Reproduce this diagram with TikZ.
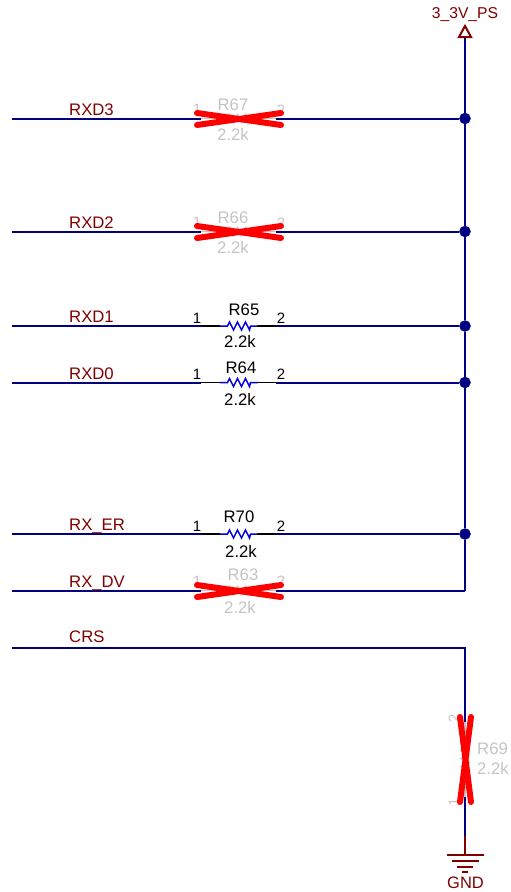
\documentclass[tikz,border=0pt]{standalone}
\usepackage{fontspec}
\setmainfont{Liberation Sans}
\definecolor{netblue}{HTML}{000080}
\definecolor{netred}{HTML}{800000}
\definecolor{dnpgrey}{HTML}{C4C4C4}
\definecolor{resblue}{HTML}{0000E0}
\tikzset{
  netline/.style={draw=netblue,line width=2pt},
  supline/.style={draw=netred,line width=2pt},
  leadline/.style={draw=black,line width=1.5pt},
  leadoff/.style={draw=dnpgrey,line width=1.5pt},
  resline/.style={draw=resblue,line width=1.5pt},
  resoff/.style={draw=dnpgrey,line width=1.5pt},
  crossline/.style={draw=red,line width=6pt,line cap=round},
  netlabel/.style={text=netred,font=\fontsize{16.7}{18}\selectfont,anchor=base west,inner sep=0pt},
  reslabel/.style={text=black,font=\fontsize{16.7}{18}\selectfont,inner sep=0pt},
  resgrey/.style={text=dnpgrey,font=\fontsize{16.7}{18}\selectfont,inner sep=0pt},
  pinlabel/.style={text=black,font=\fontsize{15}{16}\selectfont,inner sep=0pt},
  pingrey/.style={text=dnpgrey,font=\fontsize{15}{16}\selectfont,inner sep=0pt},
  junction/.style={circle,fill=netblue,draw=netblue,minimum size=11pt,inner sep=0pt},
}
\newcommand{\rzigh}{-- ++(7.5,0) -- ++(2,-4) -- ++(4,8) -- ++(4,-8) -- ++(4,8) -- ++(4,-8) -- ++(4,8) -- ++(1,-4) -- ++(7,0)}
\newcommand{\rzigv}{-- ++(0,7.5) -- ++(-4,2) -- ++(8,4) -- ++(-8,4) -- ++(8,4) -- ++(-8,4) -- ++(8,4) -- ++(-4,1) -- ++(0,7)}
\begin{document}
\begin{tikzpicture}[x=1pt,y=-1pt]
\useasboundingbox (0,0) rectangle (511,892);
% supply rail
\coordinate (railtop) at (465,37);
\node [junction] (j67) at (465,118.5) {};
\node [junction] (j66) at (465,231.5) {};
\node [junction] (j65) at (465,326) {};
\node [junction] (j64) at (465,382.5) {};
\node [junction] (j70) at (465,534) {};
\coordinate (j63) at (465,590.5);
\draw [netline] (railtop) -- (j67) -- (j66) -- (j65) -- (j64) -- (j70) -- (j63);
\draw [supline] (459,37) -- (465,26) -- (471,37) -- cycle;
\node [text=netred,font=\fontsize{15.7}{16}\selectfont,inner sep=0pt] (vcclabel) at (465,15) {3\_3V\_PS};
% RXD3
\coordinate (w67) at (12,118.5);
\coordinate (a67) at (201,118.5);
\coordinate (b67) at (220,118.5);
\coordinate (c67) at (257,118.5);
\coordinate (d67) at (276,118.5);
\draw [netline] (w67) -- (a67);
\draw [leadoff] (a67) -- (b67);
\draw [resoff] (b67) \rzigh;
\draw [leadoff] (c67) -- (d67);
\draw [netline] (d67) -- (j67);
\node [netlabel] (n67) at (69,115) {RXD3};
\node [resgrey] (r67) at (233,105) {R67};
\node [resgrey] (v67) at (233,134) {2.2k};
\node [pingrey] (p671) at (197,109) {1};
\node [pingrey] (p672) at (281,110) {2};
\draw [crossline] (197,113) -- (281,125);
\draw [crossline] (197,125) -- (281,113);
% RXD2
\coordinate (w66) at (12,231.5);
\coordinate (a66) at (201,231.5);
\coordinate (b66) at (220,231.5);
\coordinate (c66) at (257,231.5);
\coordinate (d66) at (276,231.5);
\draw [netline] (w66) -- (a66);
\draw [leadoff] (a66) -- (b66);
\draw [resoff] (b66) \rzigh;
\draw [leadoff] (c66) -- (d66);
\draw [netline] (d66) -- (j66);
\node [netlabel] (n66) at (69,228) {RXD2};
\node [resgrey] (r66) at (233,218) {R66};
\node [resgrey] (v66) at (233,247) {2.2k};
\node [pingrey] (p661) at (197,222) {1};
\node [pingrey] (p662) at (281,223) {2};
\draw [crossline] (197,226) -- (281,238);
\draw [crossline] (197,238) -- (281,226);
% RXD1
\coordinate (w65) at (12,326);
\coordinate (a65) at (201,326);
\coordinate (b65) at (220,326);
\coordinate (c65) at (257,326);
\coordinate (d65) at (276,326);
\draw [netline] (w65) -- (a65);
\draw [leadline] (a65) -- (b65);
\draw [resline] (b65) \rzigh;
\draw [leadline] (c65) -- (d65);
\draw [netline] (d65) -- (j65);
\node [netlabel] (n65) at (69,322.5) {RXD1};
\node [reslabel] (r65) at (244,309.5) {R65};
\node [reslabel] (v65) at (240,341) {2.2k};
\node [pinlabel] (p651) at (197,318) {1};
\node [pinlabel] (p652) at (281,318) {2};
% RXD0
\coordinate (w64) at (12,382.5);
\coordinate (a64) at (201,382.5);
\coordinate (b64) at (220,382.5);
\coordinate (c64) at (257,382.5);
\coordinate (d64) at (276,382.5);
\draw [netline] (w64) -- (a64);
\draw [leadline] (a64) -- (b64);
\draw [resline] (b64) \rzigh;
\draw [leadline] (c64) -- (d64);
\draw [netline] (d64) -- (j64);
\node [netlabel] (n64) at (69,379) {RXD0};
\node [reslabel] (r64) at (241,368) {R64};
\node [reslabel] (v64) at (240,399.5) {2.2k};
\node [pinlabel] (p641) at (197,374.5) {1};
\node [pinlabel] (p642) at (281,374.5) {2};
% RX_ER
\coordinate (w70) at (12,534);
\coordinate (a70) at (201,534);
\coordinate (b70) at (220,534);
\coordinate (c70) at (257,534);
\coordinate (d70) at (276,534);
\draw [netline] (w70) -- (a70);
\draw [leadline] (a70) -- (b70);
\draw [resline] (b70) \rzigh;
\draw [leadline] (c70) -- (d70);
\draw [netline] (d70) -- (j70);
\node [netlabel] (n70) at (69,530) {RX\_ER};
\node [reslabel] (r70) at (239,517) {R70};
\node [reslabel] (v70) at (241,551) {2.2k};
\node [pinlabel] (p701) at (197,526) {1};
\node [pinlabel] (p702) at (281,526) {2};
% RX_DV
\coordinate (w63) at (12,590.5);
\coordinate (a63) at (201,590.5);
\coordinate (b63) at (220,590.5);
\coordinate (c63) at (257,590.5);
\coordinate (d63) at (276,590.5);
\draw [netline] (w63) -- (a63);
\draw [leadoff] (a63) -- (b63);
\draw [resoff] (b63) \rzigh;
\draw [leadoff] (c63) -- (d63);
\draw [netline] (d63) -- (j63);
\node [netlabel] (n63) at (69,587) {RX\_DV};
\node [resgrey] (r63) at (243,575) {R63};
\node [resgrey] (v63) at (240,607) {2.2k};
\node [pingrey] (p631) at (197,581) {1};
\node [pingrey] (p632) at (281,581) {2};
\draw [crossline] (197,585) -- (281,597);
\draw [crossline] (197,597) -- (281,585);
% CRS
\coordinate (w69) at (12,647.5);
\coordinate (t69) at (465,647.5);
\coordinate (a69) at (465,722);
\coordinate (b69) at (465,741);
\coordinate (c69) at (465,778);
\coordinate (d69) at (465,797);
\coordinate (e69) at (465,836);
\coordinate (g69) at (465,854);
\draw [netline] (w69) -- (t69) -- (a69);
\draw [leadoff] (a69) -- (b69);
\draw [resoff] (b69) \rzigv;
\draw [leadoff] (c69) -- (d69);
\draw [netline] (d69) -- (e69);
\draw [supline] (e69) -- (g69);
\node [netlabel] (n69) at (69,642.5) {CRS};
\node [resgrey,anchor=west] (r69) at (477,749) {R69};
\node [resgrey,anchor=west] (v69) at (477,768) {2.2k};
\node [pingrey,rotate=90] (p692) at (454,718) {2};
\node [pingrey,rotate=90] (p691) at (454,802) {1};
\draw [crossline] (460,717) -- (471,802);
\draw [crossline] (471,717) -- (460,802);
% ground
\draw [supline] (447,854.5) -- (484,854.5);
\draw [supline] (452,860.5) -- (479,860.5);
\draw [supline] (457,866.5) -- (473,866.5);
\draw [supline] (462,872) -- (468,872);
\node [text=netred,font=\fontsize{16.5}{18}\selectfont,inner sep=0pt] (gndlabel) at (465.5,883) {GND};
\end{tikzpicture}
\end{document}
